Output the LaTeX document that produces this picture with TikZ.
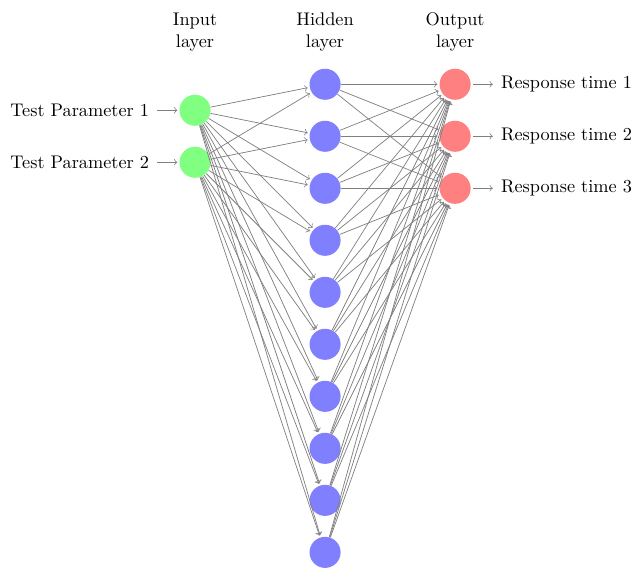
\documentclass[tikz,border=0pt]{standalone}
\usetikzlibrary{positioning}

\begin{document}
\begin{tikzpicture}[
    shorten >=1pt, ->, draw=black!50,
    every pin edge/.style={<-, shorten <=1pt},
    neuron/.style={circle, fill=black!25, minimum size=17pt, inner sep=0pt},
    input neuron/.style={neuron, fill=green!50},
    hidden neuron/.style={neuron, fill=blue!50},
    output neuron/.style={neuron, fill=red!50},
    annot/.style={text width=4em, text centered}]

  \useasboundingbox (-3.75,0.62) rectangle (8.44,-10.29);

  \foreach \y in {1,2}
    \node[input neuron, pin=left:Test Parameter \y] (I-\y) at (0,-\y-0.5) {};

  \foreach \y in {1,...,10}
    \node[hidden neuron] (H-\y) at (2.5,-\y) {};

  \foreach \y in {1,2,3}
    \node[output neuron, pin={[pin edge={->}]right:Response time \y}] (O-\y) at (5,-\y) {};

  \foreach \i in {1,2}
    \foreach \h in {1,...,10}
      \path (I-\i) edge (H-\h);

  \foreach \h in {1,...,10}
    \foreach \o in {1,2,3}
      \path (H-\h) edge (O-\o);

  \node[annot] (hl) at (2.5,0) {Hidden layer};
  \node[annot, on grid, left=2.5cm of hl] (il) {Input layer};
  \node[annot, on grid, right=2.5cm of hl] (ol) {Output layer};

\end{tikzpicture}
\end{document}
